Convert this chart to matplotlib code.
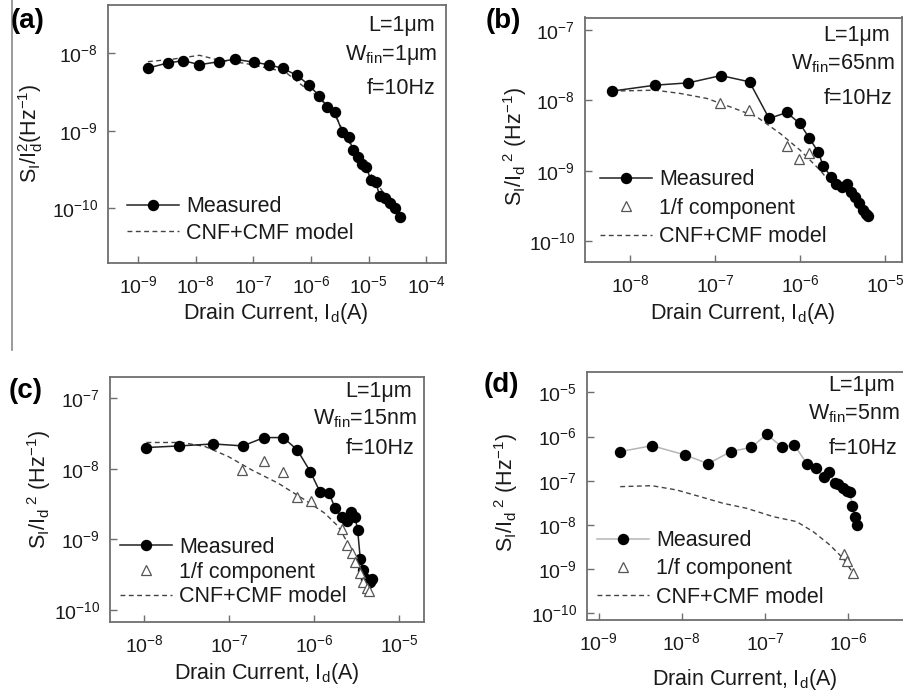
import matplotlib
matplotlib.use("Agg")
import math
import matplotlib.pyplot as plt
from matplotlib.lines import Line2D

plt.rcParams['font.family'] = ['Liberation Sans', 'DejaVu Sans']
plt.rcParams['mathtext.fontset'] = 'custom'
plt.rcParams['mathtext.rm'] = 'Liberation Sans'
plt.rcParams['mathtext.it'] = 'Liberation Sans'
plt.rcParams['mathtext.bf'] = 'Liberation Sans:bold'

# ---------------- data ----------------
# (a) L=1um, Wfin=1um
a_meas_I = [1.48e-9, 3.27e-9, 6.10e-9, 1.16e-8, 2.54e-8, 4.80e-8, 1.04e-7, 1.84e-7, 3.22e-7,
            5.70e-7, 9.20e-7, 1.39e-6, 1.91e-6, 2.59e-6, 3.48e-6, 4.48e-6, 5.38e-6, 6.58e-6,
            7.71e-6, 9.18e-6, 1.08e-5, 1.32e-5, 1.56e-5, 1.91e-5, 2.33e-5, 2.84e-5, 3.48e-5]
a_meas_S = [6.46e-9, 7.50e-9, 8.04e-9, 7.13e-9, 7.80e-9, 8.38e-9, 7.66e-9, 7.13e-9, 6.40e-9,
            5.20e-9, 3.90e-9, 2.81e-9, 2.05e-9, 1.73e-9, 9.66e-10, 8.24e-10, 5.60e-10, 4.63e-10,
            3.73e-10, 3.44e-10, 2.32e-10, 2.20e-10, 1.44e-10, 1.35e-10, 1.16e-10, 1.00e-10, 7.66e-11]
a_model_I = [1.48e-9, 3.84e-9, 1.16e-8, 2.47e-8, 7.14e-8, 1.81e-7, 3.53e-7, 6.87e-7, 1.33e-6,
             2.59e-6, 5.05e-6, 1.12e-5, 2.19e-5, 3.48e-5]
a_model_S = [7.80e-9, 8.38e-9, 9.42e-9, 8.20e-9, 7.43e-9, 6.40e-9, 5.79e-9, 3.90e-9, 2.75e-9,
             1.60e-9, 6.24e-10, 2.69e-10, 1.28e-10, 7.66e-11]

# (b) L=1um, Wfin=65nm
b_meas_I = [6.19e-9, 1.97e-8, 4.85e-8, 1.17e-7, 2.54e-7, 4.32e-7, 6.97e-7, 9.91e-7, 1.28e-6,
            1.63e-6, 1.88e-6, 2.32e-6, 2.65e-6, 3.09e-6, 3.54e-6, 3.94e-6, 4.44e-6, 4.99e-6,
            5.46e-6, 5.97e-6, 6.37e-6]
b_meas_S = [1.36e-8, 1.65e-8, 1.78e-8, 2.26e-8, 1.84e-8, 5.55e-9, 6.75e-9, 4.71e-9, 2.94e-9,
            1.86e-9, 1.16e-9, 8.22e-10, 6.61e-10, 5.93e-10, 6.46e-10, 5.02e-10, 4.27e-10, 3.44e-10,
            2.76e-10, 2.42e-10, 2.26e-10]
b_1f_I = [1.15e-7, 2.51e-7, 6.97e-7, 9.72e-7, 1.28e-6]
b_1f_S = [9.06e-9, 7.29e-9, 2.24e-9, 1.47e-9, 1.80e-9]
b_model_I = [6.19e-9, 1.97e-8, 3.87e-8, 7.98e-8, 1.50e-7, 3.09e-7, 5.82e-7, 1.00e-6, 1.72e-6, 2.15e-6]
b_model_S = [1.36e-8, 1.40e-8, 1.26e-8, 1.07e-8, 8.13e-9, 5.86e-9, 3.40e-9, 1.97e-9, 1.02e-9, 7.36e-10]

# (c) L=1um, Wfin=15nm
c_meas_I = [1.06e-8, 2.58e-8, 6.50e-8, 1.45e-7, 2.57e-7, 4.34e-7, 6.34e-7, 9.02e-7, 1.17e-6,
            1.50e-6, 1.76e-6, 2.11e-6, 2.46e-6, 2.74e-6, 3.03e-6, 3.26e-6, 3.50e-6, 3.80e-6,
            4.05e-6, 4.35e-6, 4.55e-6, 4.76e-6]
c_meas_S = [2.00e-8, 2.11e-8, 2.25e-8, 2.11e-8, 2.77e-8, 2.77e-8, 1.85e-8, 9.14e-9, 4.75e-9,
            4.51e-9, 2.82e-9, 2.06e-9, 1.79e-9, 2.42e-9, 2.10e-9, 1.36e-9, 5.35e-10, 3.69e-10,
            2.72e-10, 2.39e-10, 2.52e-10, 2.72e-10]
c_1f_I = [1.40e-7, 2.55e-7, 4.34e-7, 6.22e-7, 9.10e-7, 2.13e-6, 2.46e-6, 2.82e-6, 3.03e-6,
          3.47e-6, 3.80e-6, 4.16e-6, 4.43e-6]
c_1f_S = [9.64e-9, 1.31e-8, 8.93e-9, 3.95e-9, 3.51e-9, 1.39e-9, 8.36e-10, 6.35e-10, 4.84e-10,
          3.31e-10, 2.52e-10, 2.03e-10, 1.86e-10]
c_model_I = [1.06e-8, 2.75e-8, 5.19e-8, 9.77e-8, 1.84e-7, 3.78e-7, 7.80e-7, 1.34e-6, 1.93e-6,
             2.77e-6, 3.63e-6, 4.35e-6]
c_model_S = [2.36e-8, 2.36e-8, 2.07e-8, 1.49e-8, 9.64e-9, 6.24e-9, 3.62e-9, 2.34e-9, 1.52e-9,
             7.10e-10, 3.31e-10, 1.92e-10]

# (d) L=1um, Wfin=5nm
d_meas_I = [1.82e-9, 4.37e-9, 1.10e-8, 2.07e-8, 3.87e-8, 6.85e-8, 1.05e-7, 1.60e-7, 2.25e-7,
            3.19e-7, 4.06e-7, 5.06e-7, 5.92e-7, 6.92e-7, 7.59e-7, 8.55e-7, 9.55e-7, 1.05e-6,
            1.12e-6, 1.20e-6, 1.29e-6]
d_meas_S = [4.55e-7, 6.21e-7, 3.82e-7, 2.43e-7, 4.55e-7, 5.70e-7, 1.12e-6, 5.79e-7, 6.43e-7,
            2.43e-7, 1.98e-7, 1.22e-7, 1.58e-7, 8.89e-8, 8.30e-8, 6.97e-8, 5.86e-8, 5.66e-8,
            2.68e-8, 1.54e-8, 1.00e-8]
d_1f_I = [8.95e-7, 9.55e-7, 1.13e-6]
d_1f_S = [2.16e-9, 1.53e-9, 8.04e-10]
d_model_I = [1.82e-9, 4.37e-9, 8.71e-9, 1.66e-8, 3.16e-8, 6.03e-8, 1.26e-7, 2.40e-7, 3.80e-7,
             6.03e-7, 8.71e-7, 1.15e-6]
d_model_S = [7.35e-8, 7.73e-8, 6.17e-8, 4.37e-8, 3.08e-8, 2.38e-8, 1.54e-8, 1.19e-8, 7.05e-9,
             3.52e-9, 1.75e-9, 8.04e-10]

panel_labels = ["(a)", "(b)", "(c)", "(d)"]
L_texts = ["L=1μm", "L=1μm", "L=1μm", "L=1μm"]
W_texts = [r"W$_{\mathrm{fin}}$=1μm", r"W$_{\mathrm{fin}}$=65nm",
           r"W$_{\mathrm{fin}}$=15nm", r"W$_{\mathrm{fin}}$=5nm"]
f_text = "f=10Hz"
xlabel = r"Drain Current, I$_{\mathrm{d}}$(A)"
ylabel_a = r"S$_{\mathrm{I}}$/I$_{\mathrm{d}}^{2}$(Hz$^{-1}$)"
ylabel_bcd = r"S$_{\mathrm{I}}$/I$_{\mathrm{d}}$$^{\ 2}$ (Hz$^{-1}$)"
leg_meas = "Measured"
leg_1f = "1/f component"
leg_model = "CNF+CMF model"

xticks_a = [1e-9, 1e-8, 1e-7, 1e-6, 1e-5, 1e-4]
xticks_bc = [1e-8, 1e-7, 1e-6, 1e-5]
xticks_d = [1e-9, 1e-8, 1e-7, 1e-6]
yticks_a = [1e-10, 1e-9, 1e-8]
yticks_bc = [1e-10, 1e-9, 1e-8, 1e-7]
yticks_d = [1e-10, 1e-9, 1e-8, 1e-7, 1e-6, 1e-5]

# ---------------- figure ----------------
W, H = 904, 697
fig = plt.figure(figsize=(W / 100, H / 100), dpi=100)
fig.patch.set_facecolor('white')

TXT = '#1a1a1a'
FRAME = '#6e6e6e'

def px_axes(l, t, r, b):
    return fig.add_axes([l / W, 1 - b / H, (r - l) / W, (b - t) / H])

def fmt(v):
    e = int(round(math.log10(v)))
    return r"$10^{%d}$" % e

def style(ax, xlim, ylim, xt, yt):
    ax.set_xscale('log')
    ax.set_yscale('log')
    ax.set_xlim(*xlim)
    ax.set_ylim(*ylim)
    ax.set_xticks(xt)
    ax.set_xticklabels([fmt(v) for v in xt])
    ax.set_yticks(yt)
    ax.set_yticklabels([fmt(v) for v in yt])
    ax.minorticks_off()
    ax.tick_params(which='major', direction='in', length=5, width=1.0, color=FRAME,
                   labelsize=14, labelcolor=TXT, pad=7)
    ax.tick_params(axis='x', pad=9)
    for s in ax.spines.values():
        s.set_color(FRAME)
        s.set_linewidth(1.3)
    ax.set_facecolor('white')

MS = 7.2
axes_px = [(108, 5, 446, 263), (585, 17.5, 902, 262), (110, 376.7, 424.3, 621.7), (586.7, 371.7, 906, 620)]
limits = [((3.0e-10, 2.2e-4), (1.97e-11, 4.2e-8)),
          ((2.95e-9, 1.58e-5), (5.07e-11, 1.51e-7)),
          ((3.94e-9, 1.99e-5), (6.8e-11, 2.02e-7)),
          ((7.2e-10, 4.95e-6), (7.1e-11, 2.92e-5))]
xts = [xticks_a, xticks_bc, xticks_bc, xticks_d]
yts = [yticks_a, yticks_bc, yticks_bc, yticks_d]

axs = []
for i in range(4):
    ax = px_axes(*axes_px[i])
    style(ax, limits[i][0], limits[i][1], xts[i], yts[i])
    axs.append(ax)

DASH = (0, (3.5, 2.5))

# (a)
ax = axs[0]
ax.plot(a_model_I, a_model_S, ls=DASH, color='#444444', lw=1.0, zorder=2)
ax.plot(a_meas_I, a_meas_S, '-o', color='#222222', lw=1.1, ms=MS, mfc='black', mec='black', zorder=3)

# (b)
ax = axs[1]
ax.plot(b_model_I, b_model_S, ls=DASH, color='#444444', lw=1.0, zorder=2)
ax.plot(b_meas_I, b_meas_S, '-o', color='#222222', lw=1.1, ms=MS, mfc='black', mec='black', zorder=3)
ax.plot(b_1f_I, b_1f_S, '^', ms=7, mfc='white', mec='#555555', mew=0.9, ls='none', zorder=4)

# (c)
ax = axs[2]
ax.plot(c_model_I, c_model_S, ls=DASH, color='#444444', lw=1.0, zorder=2)
ax.plot(c_meas_I, c_meas_S, '-o', color='#222222', lw=1.1, ms=MS, mfc='black', mec='black', zorder=3)
ax.plot(c_1f_I, c_1f_S, '^', ms=7, mfc='white', mec='#555555', mew=0.9, ls='none', zorder=4)

# (d)
ax = axs[3]
ax.plot(d_model_I, d_model_S, ls=DASH, color='#444444', lw=1.0, zorder=2)
ax.plot(d_meas_I, d_meas_S, '-o', color='#b5b5b5', lw=1.1, ms=MS, mfc='black', mec='black', zorder=3)
ax.plot(d_1f_I, d_1f_S, '^', ms=7, mfc='white', mec='#555555', mew=0.9, ls='none', zorder=4)

# legends
def make_legend(ax, with_1f, meas_color, anchor, spacing):
    h = [Line2D([], [], color=meas_color, lw=1.1, marker='o', ms=MS, mfc='black', mec='black')]
    lab = [leg_meas]
    if with_1f:
        h.append(Line2D([], [], ls='none', marker='^', ms=7, mfc='white', mec='#555555', mew=0.9))
        lab.append(leg_1f)
    h.append(Line2D([], [], color='#444444', lw=1.0, ls=DASH))
    lab.append(leg_model)
    leg = ax.legend(h, lab, loc='lower left', bbox_to_anchor=anchor, frameon=False,
                    fontsize=15.5, handlelength=2.4, handletextpad=0.35, labelspacing=spacing,
                    borderaxespad=0, borderpad=0)
    for t in leg.get_texts():
        t.set_color(TXT)

make_legend(axs[0], False, '#222222', (0.056, 0.075), 0.25)
make_legend(axs[1], True, '#222222', (0.047, 0.06), 0.35)
make_legend(axs[2], True, '#222222', (0.032, 0.058), 0.18)
make_legend(axs[3], True, '#b5b5b5', (0.032, 0.05), 0.33)

# annotations (figure pixel coordinates: right edge, center y)
ann = [((435, 25), (437, 55), (436, 89)),
       ((890, 35), (895, 64), (893, 98)),
       ((412, 392), (417, 419), (415, 448)),
       ((895, 385), (900, 414), (898, 448))]
for i in range(4):
    for txt, (xr, yc) in zip([L_texts[i], W_texts[i], f_text], ann[i]):
        fig.text(xr / W, 1 - yc / H, txt, ha='right', va='center', fontsize=15.5, color=TXT)

# panel labels
plabel_pos = [(11, 8), (486, 8), (9, 378), (484, 372)]
for lab, (x, y) in zip(panel_labels, plabel_pos):
    fig.text(x / W, 1 - y / H, lab, ha='left', va='top', fontsize=20, fontweight='bold', color='black')

# axis labels
xl_pos = [(276, 313), (743, 313), (267, 673), (745, 680)]
yl_pos = [(31, 133), (515, 147), (39, 490), (506, 493)]
for i in range(4):
    fig.text(xl_pos[i][0] / W, 1 - xl_pos[i][1] / H, xlabel, ha='center', va='center',
             fontsize=15.5, color=TXT)
    fig.text(yl_pos[i][0] / W, 1 - yl_pos[i][1] / H, ylabel_a if i == 0 else ylabel_bcd,
             ha='center', va='center', rotation=90, fontsize=15.5, color=TXT)

# scan border line at the left
fig.add_artist(Line2D([12.5 / W, 12.5 / W], [1, 1 - 350 / H], color='#8a8a8a', lw=1.2))

fig.savefig('out.png', dpi=100)
